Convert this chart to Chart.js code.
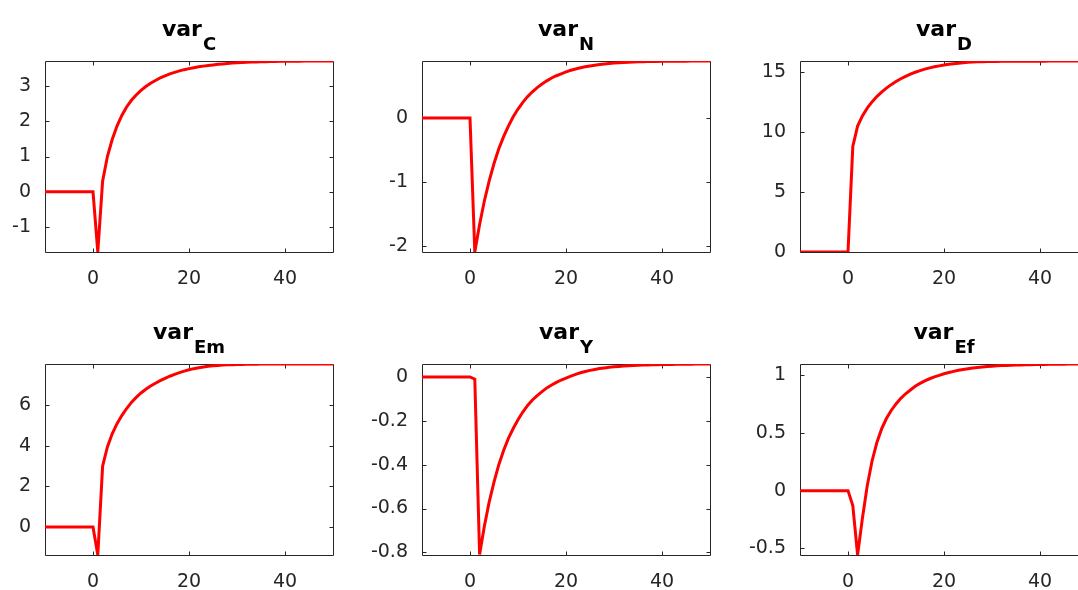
<!DOCTYPE html>
<html>
<head>
<meta charset="utf-8">
<title>Impulse responses</title>
<script src="https://cdn.jsdelivr.net/npm/chart.js"></script>
<style>
  html, body { margin: 0; padding: 0; background: #fff; overflow: hidden; width: 1078px; height: 590px; }
  canvas { position: absolute; }
</style>
</head>
<body>
<canvas id="panelC" width="373" height="295" style="left:-25px;top:0px"></canvas>
<canvas id="panelN" width="373" height="295" style="left:352px;top:0px"></canvas>
<canvas id="panelD" width="373" height="295" style="left:730px;top:0px"></canvas>
<canvas id="panelEm" width="373" height="295" style="left:-25px;top:303px"></canvas>
<canvas id="panelY" width="373" height="295" style="left:352px;top:303px"></canvas>
<canvas id="panelEf" width="373" height="295" style="left:730px;top:303px"></canvas>
<script>
// periods shown on the x axis
const periods = [-10, -9, -8, -7, -6, -5, -4, -3, -2, -1, 0,
    1, 2, 3, 4, 5, 6, 7, 8, 9, 10, 11, 12, 13, 14, 15, 16, 17, 18, 19, 20,
    21, 22, 23, 24, 25, 26, 27, 28, 29, 30, 31, 32, 33, 34, 35, 36, 37, 38, 39, 40,
    41, 42, 43, 44, 45, 46, 47, 48, 49, 50];

const preShock = [0, 0, 0, 0, 0, 0, 0, 0, 0, 0, 0];

const varC = preShock.concat([
    -1.70, 0.30, 1.00, 1.48, 1.86, 2.16, 2.40, 2.59, 2.74, 2.87,
    2.98, 3.07, 3.15, 3.22, 3.28, 3.335, 3.38, 3.42, 3.455, 3.485,
    3.51, 3.535, 3.555, 3.575, 3.59, 3.605, 3.618, 3.63, 3.64, 3.648,
    3.656, 3.663, 3.669, 3.674, 3.678, 3.682, 3.685, 3.688, 3.69, 3.692,
    3.694, 3.695, 3.696, 3.697, 3.698, 3.698, 3.699, 3.699, 3.70, 3.70]);

const varN = preShock.concat([
    -2.09, -1.66, -1.29, -0.98, -0.71, -0.48, -0.29, -0.125, 0.02, 0.14,
    0.245, 0.335, 0.41, 0.475, 0.53, 0.58, 0.625, 0.66, 0.69, 0.72,
    0.745, 0.765, 0.785, 0.80, 0.813, 0.825, 0.835, 0.844, 0.851, 0.857,
    0.862, 0.867, 0.871, 0.874, 0.877, 0.879, 0.881, 0.883, 0.884, 0.885,
    0.886, 0.887, 0.887, 0.888, 0.888, 0.889, 0.889, 0.889, 0.89, 0.89]);

const varD = preShock.concat([
    8.8, 10.5, 11.35, 12.0, 12.52, 12.96, 13.34, 13.67, 13.96, 14.22,
    14.45, 14.65, 14.83, 14.99, 15.13, 15.25, 15.355, 15.445, 15.525, 15.595,
    15.655, 15.705, 15.75, 15.79, 15.82, 15.843, 15.86, 15.873, 15.883, 15.89,
    15.896, 15.9, 15.903, 15.906, 15.909, 15.911, 15.913, 15.915, 15.917, 15.918,
    15.919, 15.92, 15.921, 15.922, 15.923, 15.924, 15.925, 15.926, 15.927, 15.928]);

const varEm = preShock.concat([
    -1.39, 3.0, 3.95, 4.6, 5.1, 5.5, 5.85, 6.15, 6.4, 6.62,
    6.8, 6.96, 7.1, 7.225, 7.34, 7.445, 7.54, 7.625, 7.70, 7.765,
    7.82, 7.865, 7.905, 7.935, 7.96, 7.98, 7.995, 8.007, 8.017, 8.025,
    8.031, 8.036, 8.04, 8.043, 8.045, 8.047, 8.048, 8.049, 8.05, 8.05,
    8.05, 8.05, 8.05, 8.05, 8.05, 8.05, 8.05, 8.05, 8.05, 8.05]);

const varY = preShock.concat([
    -0.01, -0.81, -0.68, -0.57, -0.48, -0.40, -0.335, -0.28, -0.235, -0.195,
    -0.16, -0.13, -0.105, -0.085, -0.067, -0.05, -0.037, -0.025, -0.014, -0.005,
    0.004, 0.012, 0.019, 0.025, 0.03, 0.034, 0.038, 0.041, 0.044, 0.046,
    0.048, 0.05, 0.051, 0.052, 0.053, 0.054, 0.055, 0.056, 0.056, 0.057,
    0.057, 0.057, 0.058, 0.058, 0.058, 0.058, 0.059, 0.059, 0.059, 0.059]);

const varEf = preShock.concat([
    -0.13, -0.558, -0.24, 0.04, 0.255, 0.415, 0.535, 0.625, 0.695, 0.752,
    0.80, 0.84, 0.873, 0.905, 0.93, 0.952, 0.97, 0.986, 1.0, 1.013,
    1.024, 1.034, 1.043, 1.05, 1.057, 1.063, 1.068, 1.072, 1.076, 1.079,
    1.082, 1.084, 1.086, 1.088, 1.089, 1.09, 1.091, 1.092, 1.093, 1.094,
    1.094, 1.095, 1.095, 1.096, 1.096, 1.097, 1.097, 1.097, 1.098, 1.098]);

// titles: "var" with a subscript
const titleBase = 'var';
const titleSubs = ['C', 'N', 'D', 'Em', 'Y', 'Ef'];

// tick labels
const xTicks = [0, 20, 40];
const yTicksC = [-1, 0, 1, 2, 3];
const yTicksN = [-2, -1, 0];
const yTicksD = [0, 5, 10, 15];
const yTicksEm = [0, 2, 4, 6];
const yTicksY = [-0.8, -0.6, -0.4, -0.2, 0];
const yTicksEf = [-0.5, 0, 0.5, 1];

// axis limits (tight)
const xLimits = [-10, 50];
const yLimitsC = [-1.7, 3.7];
const yLimitsN = [-2.09, 0.89];
const yLimitsD = [0, 15.93];
const yLimitsEm = [-1.39, 8.05];
const yLimitsY = [-0.812, 0.059];
const yLimitsEf = [-0.558, 1.098];

const axisColor = '#262626';
const tickFont = { family: '"DejaVu Sans", sans-serif', size: 19 };

// box round the plot with short inward tick marks on all four sides
const boxAxes = {
    id: 'boxAxes',
    beforeDatasetsDraw(chart) {
        const { ctx, chartArea: a, scales: { x, y } } = chart;
        const L = Math.round(a.left) + 0.5, R = Math.round(a.right) + 0.5;
        const T = Math.round(a.top) + 0.5, B = Math.round(a.bottom) + 0.5;
        const len = 4;
        ctx.save();
        ctx.strokeStyle = axisColor;
        ctx.lineWidth = 1;
        ctx.beginPath();
        ctx.rect(L, T, R - L, B - T);
        x.ticks.forEach(t => {
            const px = Math.round(x.getPixelForValue(t.value)) + 0.5;
            ctx.moveTo(px, B); ctx.lineTo(px, B - len);
            ctx.moveTo(px, T); ctx.lineTo(px, T + len);
        });
        y.ticks.forEach(t => {
            const py = Math.round(y.getPixelForValue(t.value)) + 0.5;
            ctx.moveTo(L, py); ctx.lineTo(L + len, py);
            ctx.moveTo(R, py); ctx.lineTo(R - len, py);
        });
        ctx.stroke();
        ctx.restore();
    }
};

// title with a subscript, centred over the plot
const subTitle = {
    id: 'subTitle',
    afterDraw(chart, args, opts) {
        const { ctx, chartArea: a } = chart;
        const baseFont = 'bold 22px "DejaVu Sans", sans-serif';
        const subFont = 'bold 18px "DejaVu Sans", sans-serif';
        ctx.save();
        ctx.fillStyle = '#000';
        ctx.textAlign = 'left';
        ctx.textBaseline = 'alphabetic';
        ctx.font = baseFont;
        const w1 = ctx.measureText(opts.base).width;
        ctx.font = subFont;
        const w2 = ctx.measureText(opts.sub).width;
        const x0 = (a.left + a.right) / 2 - (w1 + 1 + w2) / 2;
        ctx.font = baseFont;
        ctx.fillText(opts.base, x0, a.top - 25);
        ctx.font = subFont;
        ctx.fillText(opts.sub, x0 + w1 + 1, a.top - 11);
        ctx.restore();
    }
};

function drawPanel(id, sub, values, yLimits, yTicks) {
    const ctx = document.getElementById(id);
    return new Chart(ctx, {
        type: 'line',
        data: {
            datasets: [{
                label: titleBase + '_' + sub,
                data: periods.map((t, i) => ({ x: t, y: values[i] })),
                borderColor: '#ff0000',
                borderWidth: 3,
                pointRadius: 0,
                tension: 0,
                fill: false
            }]
        },
        options: {
            responsive: false,
            animation: false,
            devicePixelRatio: 1,
            layout: { padding: { top: 61, left: 0, right: 15, bottom: 0 } },
            plugins: {
                legend: { display: false },
                tooltip: { enabled: false },
                title: { display: false },
                subTitle: { base: titleBase, sub: sub }
            },
            scales: {
                x: {
                    type: 'linear',
                    min: xLimits[0],
                    max: xLimits[1],
                    grid: { display: false, drawTicks: false },
                    border: { display: false },
                    afterBuildTicks: s => { s.ticks = xTicks.map(v => ({ value: v })); },
                    afterFit: s => { s.height = 43; },
                    ticks: {
                        autoSkip: false,
                        maxRotation: 0,
                        padding: 16,
                        color: axisColor,
                        font: tickFont,
                        callback: v => String(v)
                    }
                },
                y: {
                    type: 'linear',
                    min: yLimits[0],
                    max: yLimits[1],
                    grid: { display: false, drawTicks: false },
                    border: { display: false },
                    afterBuildTicks: s => { s.ticks = yTicks.map(v => ({ value: v })); },
                    afterFit: s => { s.width = 70; },
                    ticks: {
                        autoSkip: false,
                        padding: 14,
                        color: axisColor,
                        font: tickFont,
                        callback: v => String(v)
                    }
                }
            }
        },
        plugins: [boxAxes, subTitle]
    });
}

drawPanel('panelC', titleSubs[0], varC, yLimitsC, yTicksC);
drawPanel('panelN', titleSubs[1], varN, yLimitsN, yTicksN);
drawPanel('panelD', titleSubs[2], varD, yLimitsD, yTicksD);
drawPanel('panelEm', titleSubs[3], varEm, yLimitsEm, yTicksEm);
drawPanel('panelY', titleSubs[4], varY, yLimitsY, yTicksY);
drawPanel('panelEf', titleSubs[5], varEf, yLimitsEf, yTicksEf);
</script>
</body>
</html>
